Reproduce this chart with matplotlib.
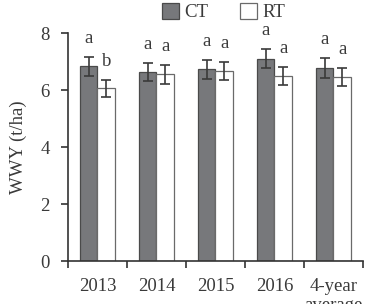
import numpy as np
import matplotlib
matplotlib.use("Agg")
import matplotlib.pyplot as plt

years = ["2013", "2014", "2015", "2016", "4-year\naverage"]
ct = [6.84, 6.64, 6.73, 7.11, 6.78]
ct_err = [0.33, 0.31, 0.34, 0.35, 0.34]
rt = [6.06, 6.55, 6.67, 6.49, 6.47]
rt_err = [0.30, 0.32, 0.33, 0.32, 0.32]
ct_lab = ["a", "a", "a", "a", "a"]
rt_lab = ["b", "a", "a", "a", "a"]

plt.rcParams['font.family'] = ['Liberation Serif', 'DejaVu Serif']
txt = '#3a3a3a'

fig = plt.figure(figsize=(3.67, 3.04), dpi=100)
ax = fig.add_axes([0.185, 0.141, 0.804, 0.75])

x = np.arange(len(years))
w = 0.3
ekw = dict(ecolor='#3a3a3a', elinewidth=1.2, capsize=3.5, capthick=1.2)
ax.bar(x - w/2, ct, w, yerr=ct_err, color='#77787b', edgecolor='#4a4a4a',
       linewidth=0.9, label='CT', error_kw=ekw)
ax.bar(x + w/2, rt, w, yerr=rt_err, color='white', edgecolor='#6a6a6a',
       linewidth=0.9, label='RT', error_kw=ekw)

for i in range(len(years)):
    ax.annotate(ct_lab[i], (x[i] - w/2, ct[i] + ct_err[i]), xytext=(0, 10),
                textcoords='offset points', ha='center', va='baseline',
                fontsize=13.5, color=txt)
    ax.annotate(rt_lab[i], (x[i] + w/2, rt[i] + rt_err[i]), xytext=(0, 10),
                textcoords='offset points', ha='center', va='baseline',
                fontsize=13.5, color=txt)

ax.set_xlim(-0.5, len(years) - 0.5)
ax.set_ylim(0, 8)
ax.set_yticks([0, 2, 4, 6, 8])
ax.set_xticks(np.arange(len(years) + 1) - 0.5)
ax.set_xticklabels([])
ax.set_xticks(x, minor=True)
ax.set_xticklabels(years, minor=True)
ax.tick_params(axis='x', which='minor', length=0, pad=12, labelsize=13.5, labelcolor=txt)
ax.tick_params(axis='x', which='major', length=5, width=1.2, direction='out', color='#333')
ax.tick_params(axis='y', length=5, width=1.2, direction='out', color='#333',
               labelsize=13.5, labelcolor=txt, pad=8)
for s in ['top', 'right']:
    ax.spines[s].set_visible(False)
for s in ['left', 'bottom']:
    ax.spines[s].set_linewidth(1.2)
    ax.spines[s].set_color('#333')

ax.set_ylabel('WWY (t/ha)', fontsize=13.5, color=txt, labelpad=10)

fig.legend(loc='upper center', bbox_to_anchor=(0.61, 1.015), ncol=2, frameon=False,
           fontsize=13.5, handlelength=0.9, handleheight=0.9, handletextpad=0.3,
           columnspacing=1.7, labelcolor=txt, borderaxespad=0.0)

fig.savefig('out.png', dpi=100)
